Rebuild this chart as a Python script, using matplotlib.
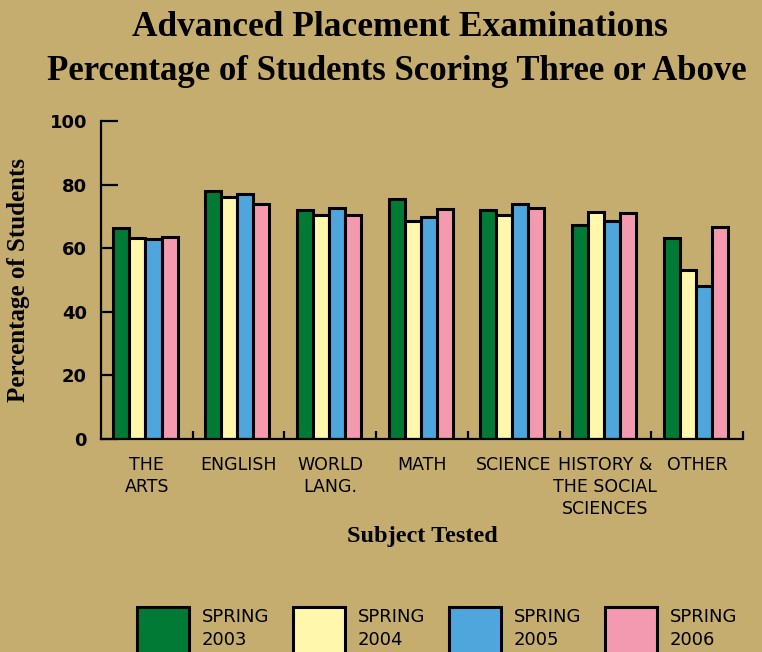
import matplotlib
matplotlib.use("Agg")
from matplotlib import pyplot as plt
from matplotlib.patches import Patch
import numpy as np

subjects = ["THE\nARTS", "ENGLISH", "WORLD\nLANG.", "MATH", "SCIENCE",
            "HISTORY &\nTHE SOCIAL\nSCIENCES", "OTHER"]
spring_2003 = [66.3, 78.1, 72.0, 75.4, 71.9, 67.3, 63.1]
spring_2004 = [63.3, 76.0, 70.5, 68.6, 70.4, 71.4, 53.0]
spring_2005 = [63.0, 77.0, 72.5, 69.9, 73.9, 68.6, 48.0]
spring_2006 = [63.6, 73.9, 70.3, 72.4, 72.5, 71.0, 66.6]
series_labels = ["SPRING\n2003", "SPRING\n2004", "SPRING\n2005", "SPRING\n2006"]
y_ticks = [0, 20, 40, 60, 80, 100]

bg = "#C5AD70"
colors = ["#007A35", "#FFF8AC", "#4EA6DD", "#F49AB0"]
serif = ["Liberation Serif", "DejaVu Serif"]
narrow = ["Liberation Sans Narrow", "DejaVu Sans"]

fig = plt.figure(figsize=(7.62, 6.52), dpi=100, facecolor=bg)
ax = fig.add_axes([101 / 762, 1 - 439 / 652, 642 / 762, 318 / 652])
ax.set_facecolor(bg)

x = np.arange(len(subjects))
width = 0.175
all_series = [spring_2003, spring_2004, spring_2005, spring_2006]
for i, (vals, col) in enumerate(zip(all_series, colors)):
    ax.bar(x + (i - 1.5) * width - 0.015, vals, width, color=col,
           edgecolor="black", linewidth=2.2, zorder=3)

ax.set_xlim(-0.5, len(subjects) - 0.5)
ax.set_ylim(0, 100)
ax.spines["top"].set_visible(False)
ax.spines["right"].set_visible(False)
for side in ["left", "bottom"]:
    ax.spines[side].set_linewidth(1.6)
    ax.spines[side].set_zorder(4)

ax.set_yticks(y_ticks)
ax.set_yticklabels([str(v) for v in y_ticks], fontsize=13, fontweight="bold",
                   family="DejaVu Sans")
ax.tick_params(axis="y", direction="in", length=12, width=1.6, pad=10)

# category labels on major ticks, boundary marks as minor ticks
ax.set_xticks(x)
ax.set_xticklabels(subjects, fontsize=12.5, family=narrow, linespacing=1.3,
                   va="top")
ax.tick_params(axis="x", which="major", length=0, pad=12)
ax.set_xticks(np.arange(0.5, len(subjects), 1.0), minor=True)
ax.tick_params(axis="x", which="minor", direction="in", length=6, width=1.6)

ax.set_ylabel("Percentage of Students", fontsize=18, fontweight="bold",
              family=serif, labelpad=14)
ax.set_xlabel("Subject Tested", fontsize=17.5, fontweight="bold",
              family=serif, labelpad=6)

fig.text(400 / 762, 1 - 27 / 652, "Advanced Placement Examinations",
         ha="center", va="center", fontsize=25.5, fontweight="bold", family=serif)
fig.text(397 / 762, 1 - 71 / 652, "Percentage of Students Scoring Three or Above",
         ha="center", va="center", fontsize=25, fontweight="bold", family=serif)

handles = [Patch(facecolor=c, edgecolor="black", linewidth=2.2) for c in colors]
leg = fig.legend(handles, series_labels, ncol=4, loc="upper left",
                 bbox_to_anchor=(128 / 762, 1 - 598 / 652), frameon=False,
                 fontsize=13, handlelength=2.9, handleheight=3.6,
                 handletextpad=0.7, columnspacing=1.3, borderpad=0)
for t in leg.get_texts():
    t.set_family(narrow)
    t.set_linespacing(1.35)

fig.savefig("out.png", dpi=100, facecolor=bg)
